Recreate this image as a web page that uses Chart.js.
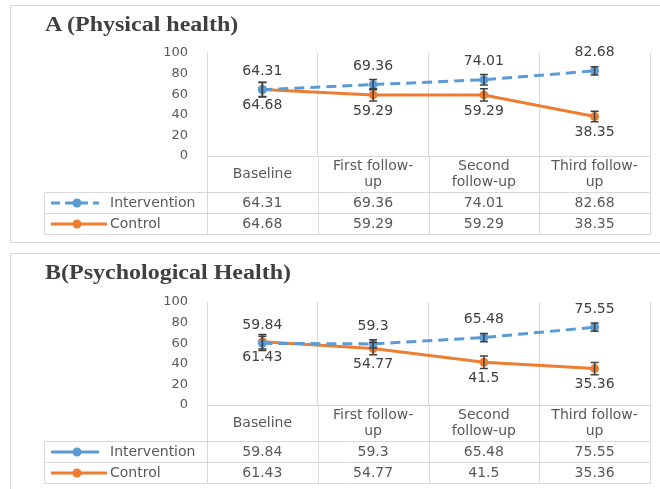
<!DOCTYPE html>
<html>
<head>
<meta charset="utf-8">
<script src="https://cdn.jsdelivr.net/npm/chart.js@4.4.1/dist/chart.umd.min.js"></script>
<style>
  body { margin: 0; background: #fff; }
  .panel { position: absolute; left: 10px; width: 660px; border: 1px solid #d9d9d9; box-sizing: border-box; }
  .box { position: absolute; left: 0; width: 660px; height: 244px; }
  .title { position: absolute; left: 45px; font: bold 20px "Liberation Serif", "Times New Roman", serif;
           color: #404040; line-height: 20px; transform: scaleX(1.2); transform-origin: left; white-space: nowrap; }
</style>
</head>
<body>
<div class="panel" style="top:5px;height:238px"></div>
<div class="panel" style="top:253px;height:245px"></div>
<div class="box" style="top:0"><canvas id="physical"></canvas></div>
<div class="box" style="top:245px"><canvas id="psych"></canvas></div>
<div class="title" style="top:14px">A (Physical health)</div>
<div class="title" style="top:262px">B(Psychological Health)</div>
<script>
// categories and values
const categories = [['Baseline'], ['First follow-', 'up'], ['Second', 'follow-up'], ['Third follow-', 'up']];
const seriesNames = ['Intervention', 'Control'];

const physIntervention = [64.31, 69.36, 74.01, 82.68];
const physControl = [64.68, 59.29, 59.29, 38.35];
const physInterventionErr = [7, 5, 5, 4];
const physControlErr = [7, 6, 6, 5];

const psychIntervention = [59.84, 59.3, 65.48, 75.55];
const psychControl = [61.43, 54.77, 41.5, 35.36];
const psychInterventionErr = [7, 4, 4, 4];
const psychControlErr = [7, 6, 6, 6];

const yMin = 0, yMax = 100, yStep = 20;

const blue = '#5B9BD5';
const orange = '#ED7D31';
const grid = '#D9D9D9';
const textCol = '#595959';

Chart.defaults.font.family = '"DejaVu Sans", sans-serif';
Chart.defaults.font.size = 14;
Chart.defaults.color = textCol;

// error bars, drawn over the markers like Excel does
const errorBars = {
  id: 'errorBars',
  afterDatasetsDraw(chart) {
    const ctx = chart.ctx, y = chart.scales.y;
    ctx.save();
    ctx.strokeStyle = '#404040';
    ctx.lineWidth = 1.5;
    chart.data.datasets.forEach((ds, d) => {
      chart.getDatasetMeta(d).data.forEach((pt, i) => {
        const top = y.getPixelForValue(ds.data[i] + ds.errors[i]);
        const bot = y.getPixelForValue(ds.data[i] - ds.errors[i]);
        ctx.beginPath();
        ctx.moveTo(pt.x, top); ctx.lineTo(pt.x, bot);
        ctx.moveTo(pt.x - 4, top); ctx.lineTo(pt.x + 4, top);
        ctx.moveTo(pt.x - 4, bot); ctx.lineTo(pt.x + 4, bot);
        ctx.stroke();
      });
    });
    ctx.restore();
  }
};

// value labels: first series above the point, second below
const valueLabels = {
  id: 'valueLabels',
  afterDatasetsDraw(chart) {
    const ctx = chart.ctx;
    ctx.save();
    ctx.font = '14px "DejaVu Sans", sans-serif';
    ctx.fillStyle = '#404040';
    ctx.textAlign = 'center';
    ctx.textBaseline = 'middle';
    chart.data.datasets.forEach((ds, d) => {
      chart.getDatasetMeta(d).data.forEach((pt, i) => {
        const dy = d === 0 ? -18 : 16;
        ctx.fillText(String(ds.data[i]), pt.x, pt.y + dy);
      });
    });
    ctx.restore();
  }
};

// data table under the x axis with legend keys in the first column
const dataTable = {
  id: 'dataTable',
  afterDraw(chart, args, opts) {
    const ctx = chart.ctx, a = chart.chartArea, x = chart.scales.x;
    const rowH = 21, left = 44.5;
    const top = Math.round(x.bottom) + 0.5;
    const n = chart.data.labels.length;
    const sets = chart.data.datasets;
    const bottom = top + sets.length * rowH;
    ctx.save();
    ctx.strokeStyle = grid;
    ctx.lineWidth = 1;
    ctx.beginPath();
    for (let r = 0; r <= sets.length; r++) {
      ctx.moveTo(left, top + r * rowH); ctx.lineTo(Math.round(a.right) + 0.5, top + r * rowH);
    }
    ctx.moveTo(left, top); ctx.lineTo(left, bottom);
    for (let i = 0; i <= n; i++) {
      const xb = Math.round(x.getPixelForValue(i - 0.5)) + 0.5;
      ctx.moveTo(xb, a.bottom); ctx.lineTo(xb, bottom);
    }
    ctx.stroke();

    ctx.font = '14px "DejaVu Sans", sans-serif';
    ctx.fillStyle = textCol;
    ctx.textBaseline = 'middle';
    sets.forEach((ds, d) => {
      const cy = top + d * rowH + rowH / 2;
      ctx.textAlign = 'center';
      ds.data.forEach((v, i) => ctx.fillText(String(v), x.getPixelForValue(i), cy));
      // legend key
      const dash = opts.legendDash[d];
      ctx.save();
      ctx.strokeStyle = ds.borderColor;
      ctx.lineWidth = 3;
      ctx.setLineDash(dash);
      ctx.beginPath();
      ctx.moveTo(51, cy); ctx.lineTo(d === 0 ? 99 : 107, cy);
      ctx.stroke();
      ctx.fillStyle = ds.borderColor;
      ctx.beginPath();
      ctx.arc(77, cy, 4.5, 0, Math.PI * 2);
      ctx.fill();
      ctx.restore();
      ctx.textAlign = 'left';
      ctx.fillText(ds.label, 110, cy);
    });
    ctx.restore();
  }
};

function makePanel(id, interv, ctrl, intervErr, ctrlErr, padTop, legendDash) {
  return new Chart(document.getElementById(id), {
    type: 'line',
    data: {
      labels: categories,
      datasets: [
        {
          label: seriesNames[0], data: interv, errors: intervErr,
          borderColor: blue, backgroundColor: blue, borderWidth: 3, borderDash: [10, 6],
          pointRadius: 4.5, pointBackgroundColor: blue, pointBorderWidth: 0, tension: 0
        },
        {
          label: seriesNames[1], data: ctrl, errors: ctrlErr,
          borderColor: orange, backgroundColor: orange, borderWidth: 3,
          pointRadius: 4.5, pointBackgroundColor: orange, pointBorderWidth: 0, tension: 0
        }
      ]
    },
    options: {
      responsive: true,
      maintainAspectRatio: false,
      animation: false,
      layout: { padding: { top: padTop, bottom: 244 - padTop - 103 - 36, left: 0, right: 10 } },
      plugins: {
        legend: { display: false },
        tooltip: { enabled: false },
        dataTable: { legendDash: legendDash }
      },
      scales: {
        x: {
          offset: true,
          grid: { offset: true, color: grid, drawTicks: false },
          border: { color: grid },
          ticks: { padding: 10, crossAlign: 'center', maxRotation: 0, autoSkip: false,
                   font: { size: 14, lineHeight: 1.15 } },
          afterFit(scale) { scale.height = 36; }
        },
        y: {
          min: yMin, max: yMax,
          grid: { display: false, drawTicks: false },
          border: { display: false },
          ticks: { stepSize: yStep, padding: 19, font: { size: 13 } },
          afterFit(scale) { scale.width = 207; }
        }
      }
    },
    plugins: [errorBars, valueLabels, dataTable]
  });
}

makePanel('physical', physIntervention, physControl, physInterventionErr, physControlErr, 53, [[9, 5], []]);
makePanel('psych', psychIntervention, psychControl, psychInterventionErr, psychControlErr, 57, [[], []]);
</script>
</body>
</html>
